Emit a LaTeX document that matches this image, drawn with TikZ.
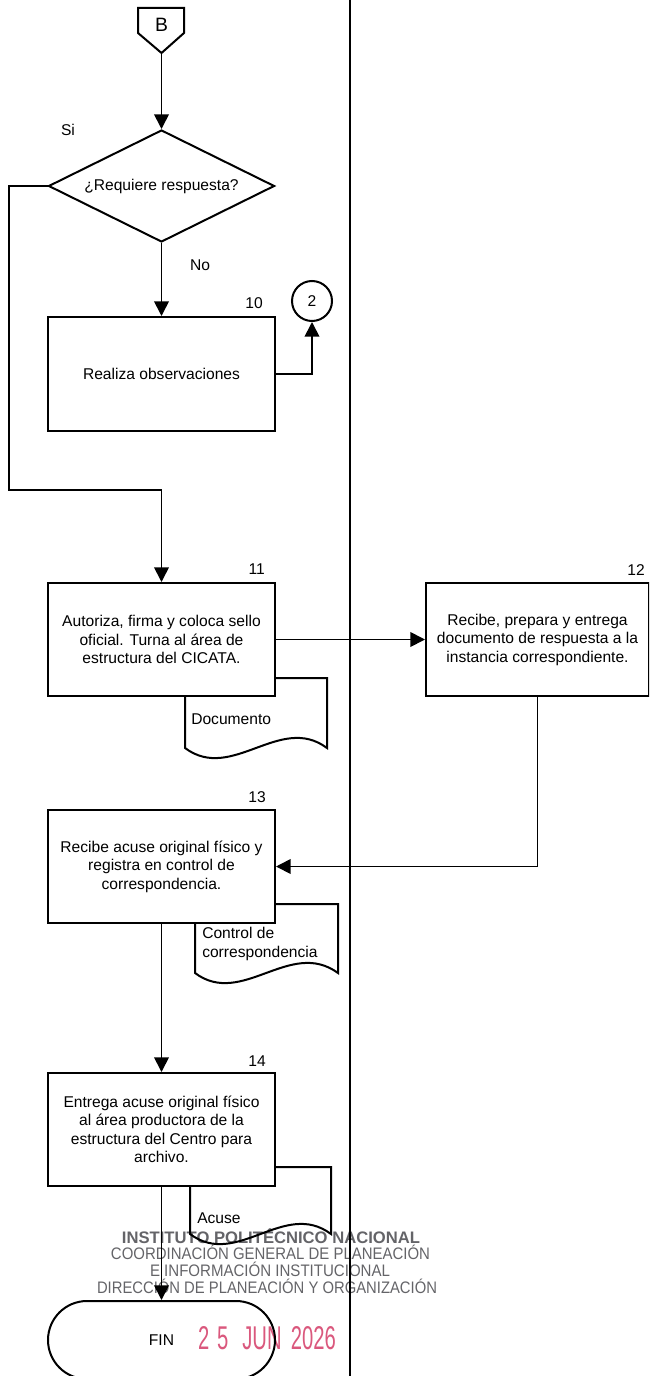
\documentclass[tikz,border=0pt]{standalone}
\usepackage{fontspec}
\setmainfont{Liberation Sans}
\usetikzlibrary{shapes.geometric,shapes.misc,arrows.meta}
\definecolor{stampgray}{RGB}{100,100,104}
\definecolor{stampred}{RGB}{218,88,125}
\begin{document}
\begin{tikzpicture}[x=0.75pt,y=-0.75pt,
  font=\fontsize{11.7}{13.9}\selectfont,
  shapeline/.style={line width=1.5pt},
  flow/.style={line width=1.3pt,-{Triangle[length=11pt,width=11pt]}},
  process/.style={draw,shapeline,fill=white,rectangle,minimum width=170.25pt,
    minimum height=84.75pt,align=center,inner sep=0pt},
  stepno/.style={anchor=east,inner sep=0pt},
  doclabel/.style={anchor=west,align=left,inner sep=0pt},
  stamp/.style={text=stampgray,inner sep=0pt},
]
\useasboundingbox (0,0) rectangle (649,1376);
\clip (0,0) rectangle (649,1376);

% seal of the approving office
\node[stamp,font=\bfseries\fontsize{12.5}{14}\selectfont] (s1) at (271,1236)
  {\resizebox{223.5pt}{\height}{INSTITUTO POLITÉCNICO NACIONAL}};
\node[stamp,font=\fontsize{12.5}{14}\selectfont] (s2) at (270.5,1252)
  {\resizebox{239.25pt}{\height}{COORDINACIÓN GENERAL DE PLANEACIÓN}};
\node[stamp,font=\fontsize{12.5}{14}\selectfont] (s3) at (270,1269)
  {\resizebox{180pt}{\height}{E INFORMACIÓN INSTITUCIONAL}};
\node[stamp,font=\fontsize{12.5}{14}\selectfont] (s4) at (267,1286)
  {\resizebox{255pt}{\height}{DIRECCIÓN DE PLANEACIÓN Y ORGANIZACIÓN}};
\node[inner sep=0pt,text=stampred,font=\fontsize{20}{22}\selectfont] (date) at (267,1338)
  {\resizebox{103.5pt}{17.25pt}{2\hspace*{0.39em}5\hspace*{0.69em}JUN\hspace*{0.46em}2026}};

% lane divider
\draw[line width=1.6pt] (350,0) -- (350,1376);

% documents (partly hidden behind their process boxes)
\draw[shapeline] (185,678) -- (185,748) .. controls (232,783) and (280,713) .. (327,748) -- (327,678) -- cycle;
\draw[shapeline] (195,904) -- (195,973) .. controls (242,1008) and (290,938) .. (338,973) -- (338,904) -- cycle;
\draw[shapeline] (190,1167) -- (190,1234) .. controls (237,1269) and (284,1199) .. (331,1234) -- (331,1167) -- cycle;
\node[doclabel] (d1t) at (191,719) {Documento};
\node[doclabel] (d2t) at (202,944) {Control de\\correspondencia};
\node[doclabel] (d3t) at (197,1218) {Acuse};

% off-page connector B
\draw[shapeline] (138,8) -- (184,8) -- (184,33) -- (161.5,53) -- (138,33) -- cycle;
\coordinate (Btip) at (161.5,53);
\node[font=\fontsize{14.5}{16}\selectfont,inner sep=0pt] (Btxt) at (161.5,25) {B};

% decision
\node[diamond,aspect=2.02,draw,shapeline,minimum width=169.5pt,minimum height=84pt,inner sep=0pt]
  (dec) at (161.5,186) {¿Requiere respuesta?};
\node (si) at (68,130) {Si};
\node (no) at (200,265) {No};

% process steps
\node[process,minimum height=85.5pt] (b10) at (161.5,374) {Realiza observaciones};
\node[process] (b11) at (161.5,639.5) {Autoriza, firma y coloca sello\\oficial. Turna al área de\\estructura del CICATA.};
\node[process,minimum width=167.25pt] (b12) at (537.5,639.5) {Recibe, prepara y entrega\\documento de respuesta a la\\instancia correspondiente.};
\node[process] (b13) at (161.5,866.5) {Recibe acuse original físico y\\registra en control de\\correspondencia.};
\node[process] (b14) at (161.5,1129.5) {Entrega acuse original físico\\al área productora de la\\estructura del Centro para\\archivo.};

\node[stepno] (n10) at (263,303) {10};
\node[stepno] (n11) at (265,569) {11};
\node[stepno] (n12) at (645,570) {12};
\node[stepno] (n13) at (266,797) {13};
\node[stepno] (n14) at (266,1061) {14};

% on-page connector 2
\node[circle,draw,shapeline,minimum size=30pt,inner sep=0pt] (c2) at (312,301) {2};

% end terminator
\node[rounded rectangle,draw,shapeline,minimum width=170.25pt,minimum height=58.5pt,inner sep=0pt]
  (fin) at (161.5,1340) {FIN};

% connectors
\coordinate (siCorner) at (9,490);
\draw[flow] (Btip) -- (dec.north);
\draw[flow] (dec.south) -- (b10.north);
\draw[flow] (dec.west) -| (siCorner) -- (siCorner -| b11.north) -- (b11.north);
\draw[flow] (b10.east) -| (c2.south);
\draw[flow] (b11.east) -- (b12.west);
\draw[flow] (b12.south) |- (b13.east);
\draw[flow] (b13.south) -- (b14.north);
\draw[flow] (b14.south) -- (fin.north);
\end{tikzpicture}
\end{document}
